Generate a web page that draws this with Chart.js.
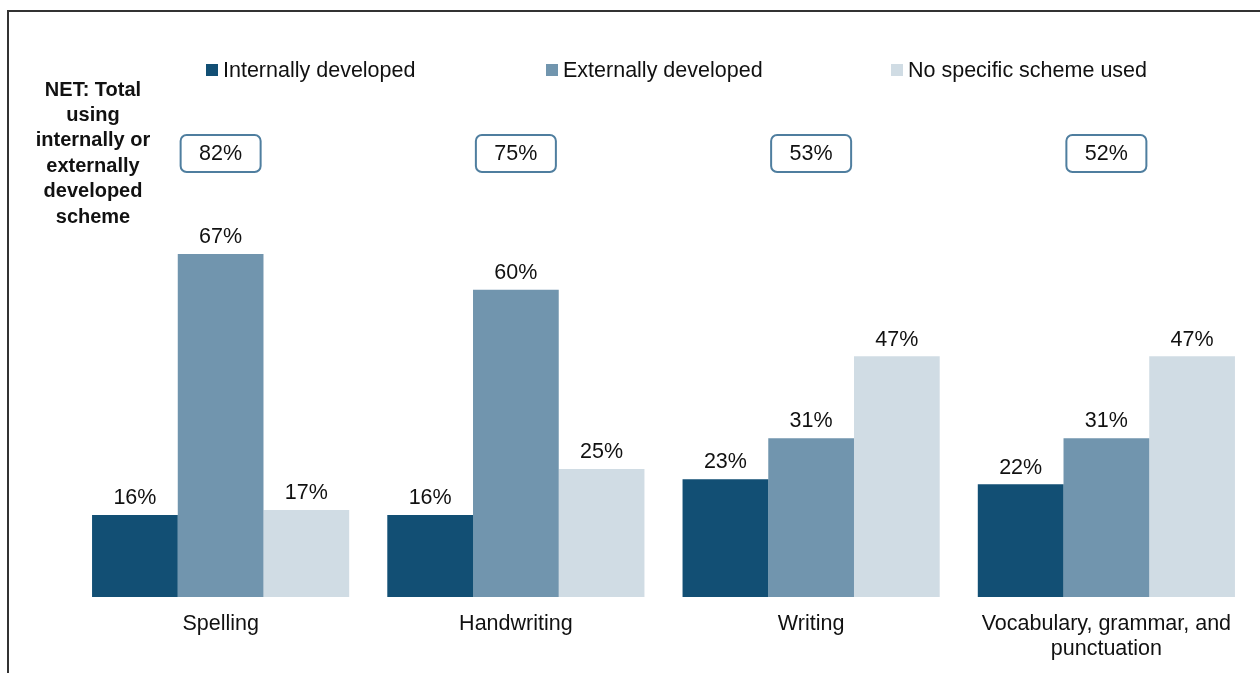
<!DOCTYPE html>
<html>
<head>
<meta charset="utf-8">
<script src="https://cdn.jsdelivr.net/npm/chart.js@4.4.1/dist/chart.umd.min.js"></script>
<style>
  html, body { margin: 0; padding: 0; background: #fff; }
  #wrap { position: relative; width: 1260px; height: 673px; overflow: hidden; }
  #frame {
    position: absolute; left: 7px; top: 10px; width: 1300px; height: 700px;
    border-left: 2px solid #333; border-top: 2px solid #333;
  }
  canvas { position: absolute; left: 0; top: 0; }
</style>
</head>
<body>
<div id="wrap">
  <div id="frame"></div>
  <canvas id="chart" width="1260" height="673"></canvas>
</div>
<script>
// Scheme use by subject area
const categories = ['Spelling', 'Handwriting', 'Writing', ['Vocabulary, grammar, and', 'punctuation']]
const seriesNames = ['Internally developed', 'Externally developed', 'No specific scheme used']
const internal = [16, 16, 23, 22]
const external = [67, 60, 31, 31]
const noScheme = [17, 25, 47, 47]
const netTotals = [82, 75, 53, 52]
const netTitle = ['NET: Total', 'using', 'internally or', 'externally', 'developed', 'scheme']

const COLORS = ['#124f74', '#7195ae', '#d0dce4']
const FONT = '"Liberation Sans", Arial, sans-serif'

// value labels over each bar
const barLabels = {
  id: 'barLabels',
  afterDatasetsDraw(chart) {
    const ctx = chart.ctx
    ctx.save()
    ctx.font = '21.5px ' + FONT
    ctx.fillStyle = '#111'
    ctx.textAlign = 'center'
    ctx.textBaseline = 'bottom'
    chart.data.datasets.forEach((ds, i) => {
      chart.getDatasetMeta(i).data.forEach((bar, j) => {
        ctx.fillText(ds.data[j] + '%', bar.x, bar.y - 6)
      })
    })
    ctx.restore()
  },
}

// legend row, NET heading and the boxed totals
const extras = {
  id: 'extras',
  afterDraw(chart) {
    const ctx = chart.ctx
    const xs = chart.scales.x
    ctx.save()

    // legend
    const legendX = [206, 546, 891]
    ctx.font = '21.5px ' + FONT
    ctx.textBaseline = 'middle'
    ctx.textAlign = 'left'
    seriesNames.forEach((name, i) => {
      ctx.fillStyle = COLORS[i]
      ctx.fillRect(legendX[i], 64, 12, 12)
      ctx.fillStyle = '#111'
      ctx.fillText(name, legendX[i] + 17, 71)
    })

    // NET heading
    ctx.font = 'bold 20px ' + FONT
    ctx.textAlign = 'center'
    netTitle.forEach((line, i) => {
      ctx.fillText(line, 93, 90 + i * 25.4)
    })

    // boxed totals
    ctx.font = '21.5px ' + FONT
    netTotals.forEach((v, i) => {
      const cx = xs.getPixelForValue(i)
      const w = 80, h = 37, top = 135
      ctx.beginPath()
      ctx.roundRect(cx - w / 2, top, w, h, 6)
      ctx.fillStyle = '#fff'
      ctx.fill()
      ctx.lineWidth = 2
      ctx.strokeStyle = '#4f7e9f'
      ctx.stroke()
      ctx.fillStyle = '#111'
      ctx.fillText(v + '%', cx, top + h / 2 + 1)
    })
    ctx.restore()
  },
}

const data = {
  labels: categories,
  datasets: [internal, external, noScheme].map((vals, i) => ({
    label: seriesNames[i],
    data: vals,
    backgroundColor: COLORS[i],
    borderWidth: 0,
    barPercentage: 1,
    categoryPercentage: 0.871,
  })),
}

new Chart(document.getElementById('chart'), {
  type: 'bar',
  data: data,
  options: {
    responsive: false,
    animation: false,
    layout: { padding: { left: 73, right: 6, top: 85, bottom: 0 } },
    plugins: {
      legend: { display: false },
      tooltip: { enabled: false },
    },
    scales: {
      x: {
        grid: { display: false, drawTicks: false },
        border: { display: false },
        ticks: {
          color: '#111',
          font: { family: FONT, size: 21.5, lineHeight: 1.15 },
          padding: 15,
          maxRotation: 0,
          autoSkip: false,
        },
        afterFit(scale) { scale.height = 76 },
      },
      y: {
        display: false,
        min: 0,
        max: 100,
      },
    },
  },
  plugins: [barLabels, extras],
})
</script>
</body>
</html>
